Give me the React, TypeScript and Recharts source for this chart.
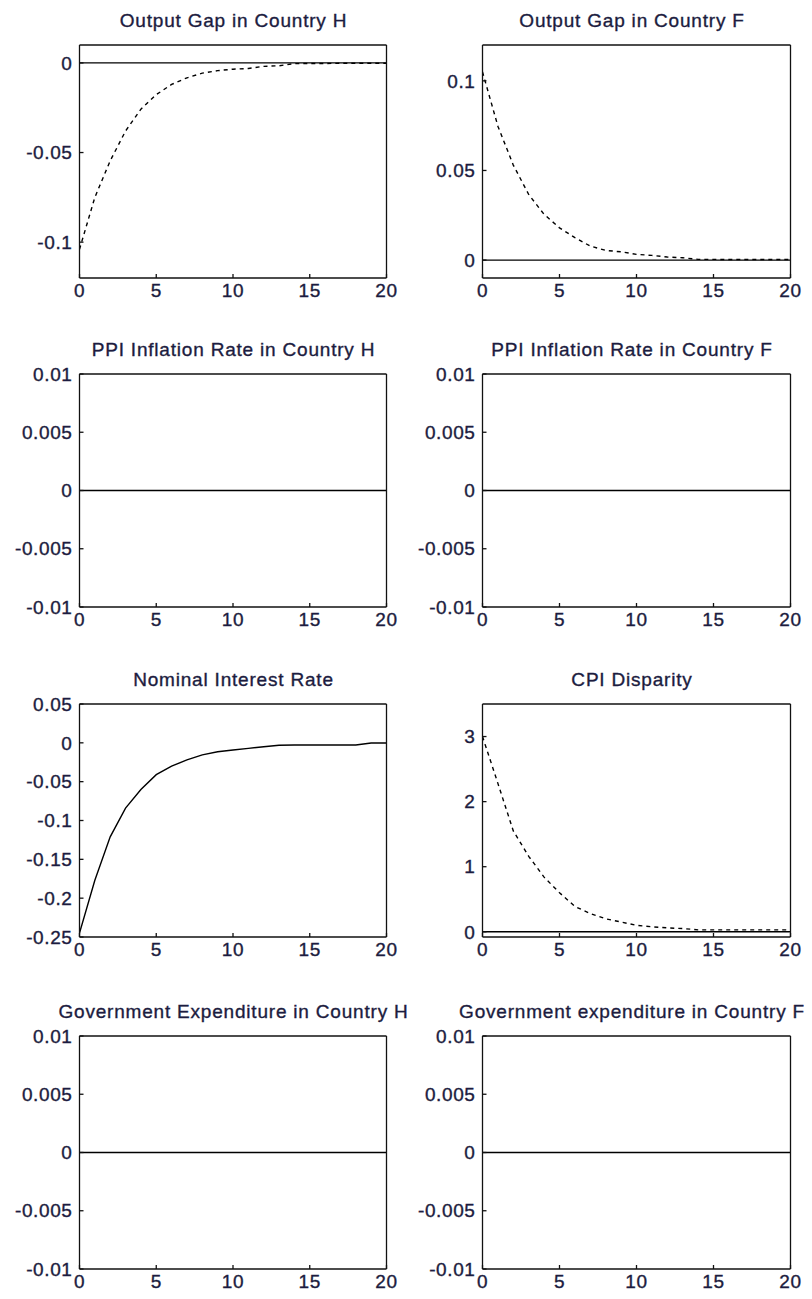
import React from "react";
import { LineChart, Line, XAxis, YAxis } from "recharts";

// horizon (quarters)
const periods = [0, 1, 2, 3, 4, 5, 6, 7, 8, 9, 10, 11, 12, 13, 14, 15, 16, 17, 18, 19, 20];
const xTicks = [0, 5, 10, 15, 20];

// solid line in most panels is the flat zero response
const zeroPath = [0, 0, 0, 0, 0, 0, 0, 0, 0, 0, 0, 0, 0, 0, 0, 0, 0, 0, 0, 0, 0];

const outputGapH = [
  -0.104, -0.075, -0.0546, -0.038, -0.0258, -0.0177, -0.012, -0.0083, -0.0057, -0.0043, -0.0035,
  -0.0031, -0.0019, -0.0016, -0.0004, -0.0003, -0.0003, -0.0002, -0.0002, -0.0002, -0.0002,
];
const outputGapF = [
  0.105, 0.0747, 0.053, 0.0366, 0.0255, 0.018, 0.0125, 0.0078, 0.0054, 0.0046, 0.0032, 0.0026,
  0.0017, 0.0013, 0.0004, 0.0004, 0.0003, 0.0003, 0.0003, 0.0003, 0.0003,
];
const nominalRate = [
  -0.245, -0.177, -0.121, -0.084, -0.06, -0.041, -0.03, -0.022, -0.0155, -0.0115, -0.0092, -0.0071,
  -0.005, -0.0032, -0.0028, -0.0028, -0.0028, -0.0028, -0.0028, -0.0002, -0.0002,
];
const cpiDisparity = [
  3.0, 2.28, 1.55, 1.16, 0.84, 0.6, 0.39, 0.28, 0.2, 0.15, 0.1, 0.077, 0.06, 0.05, 0.03, 0.03, 0.03,
  0.03, 0.03, 0.03, 0.03,
];

const gapHTicks = [-0.1, -0.05, 0];
const gapFTicks = [0, 0.05, 0.1];
const smallTicks = [-0.01, -0.005, 0, 0.005, 0.01];
const rateTicks = [-0.25, -0.2, -0.15, -0.1, -0.05, 0, 0.05];
const cpiTicks = [0, 1, 2, 3];

const COLS = [
  { x0: 0, plotL: 79.5, plotR: 386.5, titleX: 233.5 },
  { x0: 406, plotL: 482.5, plotR: 790.5, titleX: 632 },
];
const ROW_TOPS = [44.5, 374, 704, 1035.5];
const PLOT_H = 233;
const CHART_W = 406;

const FONT = '"Liberation Sans", Arial, sans-serif';
const TEXT = "#1c1c40";
const INK = "#111";

const axisStroke = { stroke: INK, strokeWidth: 1.3 };
const tickText = { fill: TEXT, fontSize: 19, stroke: TEXT, strokeWidth: 0.35 };

type PanelProps = {
  title: string;
  row: number;
  col: number;
  domain: [number, number];
  ticks: number[];
  solid?: number[];
  dashed?: number[];
};

function Panel({ title, row, col, domain, ticks, solid, dashed }: PanelProps) {
  const c = COLS[col];
  const top = ROW_TOPS[row];
  const data = periods.map((t, i) => ({
    t,
    solid: solid ? solid[i] : null,
    dashed: dashed ? dashed[i] : null,
  }));
  const rightGap = c.x0 + CHART_W - c.plotR;

  return (
    <>
      <div
        style={{
          position: "absolute",
          left: c.titleX - 250,
          width: 500,
          top: top - 33.6,
          textAlign: "center",
          fontSize: 19,
          lineHeight: "19px",
          letterSpacing: 0.8,
          color: TEXT,
          WebkitTextStroke: "0.35px " + TEXT,
          whiteSpace: "nowrap",
        }}
      >
        {title}
      </div>
      <div style={{ position: "absolute", left: c.x0, top: top - 10 }}>
        <LineChart
          width={CHART_W}
          height={PLOT_H + 10 + 30}
          data={data}
          margin={{ top: 9, right: rightGap - 1, bottom: 0, left: 0 }}
        >
          <XAxis
            xAxisId="b"
            dataKey="t"
            type="number"
            domain={[0, 20]}
            ticks={xTicks}
            interval={0}
            allowDataOverflow
            height={30}
            tickSize={-4}
            tickMargin={10}
            axisLine={axisStroke}
            tickLine={axisStroke}
            tick={tickText}
          />
          <XAxis
            xAxisId="t"
            orientation="top"
            dataKey="t"
            type="number"
            domain={[0, 20]}
            ticks={xTicks}
            interval={0}
            allowDataOverflow
            height={1}
            tickSize={-4}
            axisLine={axisStroke}
            tickLine={axisStroke}
            tick={false}
          />
          <YAxis
            yAxisId="l"
            type="number"
            domain={domain}
            ticks={ticks}
            interval={0}
            allowDataOverflow
            width={c.plotL - c.x0}
            tickSize={-4}
            tickMargin={11}
            axisLine={axisStroke}
            tickLine={axisStroke}
            tick={tickText}
            tickFormatter={(v: number) => String(v)}
          />
          <YAxis
            yAxisId="r"
            orientation="right"
            type="number"
            domain={domain}
            ticks={ticks}
            interval={0}
            allowDataOverflow
            width={1}
            tickSize={-4}
            axisLine={axisStroke}
            tickLine={axisStroke}
            tick={false}
          />
          {solid && (
            <Line
              xAxisId="b"
              yAxisId="l"
              type="linear"
              dataKey="solid"
              stroke="#000"
              strokeWidth={1.4}
              dot={false}
              activeDot={false}
              isAnimationActive={false}
            />
          )}
          {dashed && (
            <Line
              xAxisId="b"
              yAxisId="l"
              type="linear"
              dataKey="dashed"
              stroke="#000"
              strokeWidth={1.4}
              strokeDasharray="4 4"
              dot={false}
              activeDot={false}
              isAnimationActive={false}
            />
          )}
        </LineChart>
      </div>
    </>
  );
}

export default function App() {
  return (
    <div
      style={{
        position: "absolute",
        left: 0,
        top: 0,
        width: 812,
        height: 1299,
        background: "#fff",
        fontFamily: FONT,
        letterSpacing: 0.6,
      }}
    >
      <Panel title="Output Gap in Country H" row={0} col={0} domain={[-0.12, 0.01]} ticks={gapHTicks} solid={zeroPath} dashed={outputGapH} />
      <Panel title="Output Gap in Country F" row={0} col={1} domain={[-0.01, 0.12]} ticks={gapFTicks} solid={zeroPath} dashed={outputGapF} />
      <Panel title="PPI Inflation Rate in Country H" row={1} col={0} domain={[-0.01, 0.01]} ticks={smallTicks} solid={zeroPath} />
      <Panel title="PPI Inflation Rate in Country F" row={1} col={1} domain={[-0.01, 0.01]} ticks={smallTicks} solid={zeroPath} />
      <Panel title="Nominal Interest Rate" row={2} col={0} domain={[-0.25, 0.05]} ticks={rateTicks} solid={nominalRate} />
      <Panel title="CPI Disparity" row={2} col={1} domain={[-0.08, 3.5]} ticks={cpiTicks} solid={zeroPath} dashed={cpiDisparity} />
      <Panel title="Government Expenditure in Country H" row={3} col={0} domain={[-0.01, 0.01]} ticks={smallTicks} solid={zeroPath} />
      <Panel title="Government expenditure in Country F" row={3} col={1} domain={[-0.01, 0.01]} ticks={smallTicks} solid={zeroPath} />
    </div>
  );
}
